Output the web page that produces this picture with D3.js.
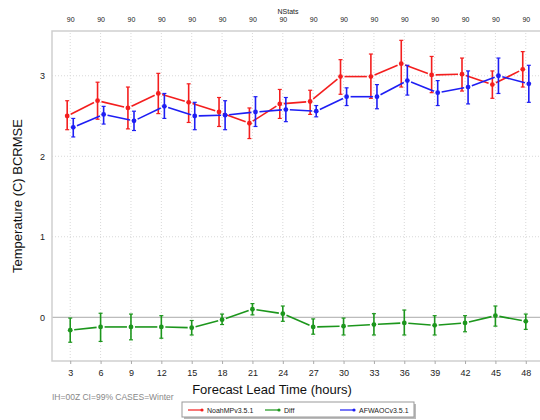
<!DOCTYPE html>
<html>
<head>
<meta charset="utf-8">
<script src="https://cdn.jsdelivr.net/npm/d3@7"></script>
<style>
  body { margin: 0; background: #fff; }
  text { font-family: "Liberation Sans", Arial, sans-serif; }
</style>
</head>
<body>
<svg width="540" height="420"></svg>
<script>
// data
const leadTimes = [3, 6, 9, 12, 15, 18, 21, 24, 27, 30, 33, 36, 39, 42, 45, 48];
const nStats = [90, 90, 90, 90, 90, 90, 90, 90, 90, 90, 90, 90, 90, 90, 90, 90];

const noahVal = [2.50, 2.69, 2.60, 2.78, 2.67, 2.55, 2.41, 2.65, 2.68, 2.99, 2.99, 3.15, 3.01, 3.02, 2.89, 3.08];
const noahHi  = [2.69, 2.92, 2.86, 3.03, 2.90, 2.73, 2.60, 2.83, 2.82, 3.20, 3.27, 3.44, 3.24, 3.22, 3.06, 3.30];
const noahLo  = [2.33, 2.46, 2.34, 2.53, 2.42, 2.37, 2.22, 2.47, 2.52, 2.77, 2.72, 2.86, 2.79, 2.81, 2.72, 2.86];

const afwaVal = [2.36, 2.52, 2.44, 2.62, 2.50, 2.51, 2.55, 2.58, 2.56, 2.74, 2.74, 2.94, 2.79, 2.86, 3.00, 2.90];
const afwaHi  = [2.47, 2.62, 2.56, 2.78, 2.67, 2.69, 2.74, 2.73, 2.63, 2.85, 2.89, 3.13, 2.94, 3.06, 3.22, 3.13];
const afwaLo  = [2.24, 2.40, 2.32, 2.47, 2.33, 2.33, 2.37, 2.43, 2.49, 2.63, 2.59, 2.76, 2.63, 2.65, 2.78, 2.67];

const diffVal = [-0.16, -0.12, -0.12, -0.12, -0.13, -0.03, 0.10, 0.045, -0.12, -0.11, -0.09, -0.07, -0.10, -0.07, 0.02, -0.05];
const diffHi  = [-0.01, 0.05, 0.04, 0.02, -0.04, 0.04, 0.17, 0.14, -0.02, -0.01, 0.045, 0.09, 0.02, 0.02, 0.14, 0.04];
const diffLo  = [-0.31, -0.30, -0.28, -0.26, -0.22, -0.09, 0.03, -0.05, -0.21, -0.22, -0.22, -0.22, -0.22, -0.18, -0.11, -0.15];

const yTicks = [0, 1, 2, 3];

const series = [
  { name: "NoahMPv3.5.1", color: "#f41e1e", shift: -0.3, val: noahVal, hi: noahHi, lo: noahLo },
  { name: "Diff", color: "#1c961c", shift: 0, val: diffVal, hi: diffHi, lo: diffLo },
  { name: "AFWAOCv3.5.1", color: "#1e1ef4", shift: 0.3, val: afwaVal, hi: afwaHi, lo: afwaLo }
];

const svg = d3.select("svg");
const margin = { top: 31, right: -4, bottom: 59, left: 52 };
const width = +svg.attr("width");
const height = +svg.attr("height");

const x = d3.scaleLinear().domain([1.2, 49.8]).range([margin.left, width - margin.right]);
const y = d3.scaleLinear().domain([-0.543, 3.556]).range([height - margin.bottom, margin.top]);

const gridColor = "#d8d8d8";
const frameColor = "#cfcfcf";

// grid
svg.append("g").selectAll("line").data(leadTimes).enter().append("line")
  .attr("x1", d => x(d)).attr("x2", d => x(d))
  .attr("y1", y.range()[0]).attr("y2", y.range()[1])
  .attr("stroke", gridColor).attr("stroke-dasharray", "1,2");
svg.append("g").selectAll("line").data(yTicks.filter(d => d !== 0)).enter().append("line")
  .attr("x1", x.range()[0]).attr("x2", x.range()[1])
  .attr("y1", d => y(d)).attr("y2", d => y(d))
  .attr("stroke", gridColor).attr("stroke-dasharray", "1,2");

// zero line
svg.append("line")
  .attr("x1", x.range()[0]).attr("x2", x.range()[1])
  .attr("y1", y(0)).attr("y2", y(0))
  .attr("stroke", "#aaaaaa").attr("stroke-width", 1);

// frame
svg.append("path")
  .attr("d", `M${x.range()[1]},${y.range()[1]}H${x.range()[0]}V${y.range()[0]}H${x.range()[1]}`)
  .attr("fill", "none").attr("stroke", frameColor).attr("stroke-width", 1.5);

// bottom axis
const xAxis = d3.axisBottom(x).tickValues(leadTimes).tickSize(3).tickPadding(6);
const gx = svg.append("g").attr("transform", `translate(0,${y.range()[0]})`).call(xAxis);
gx.select(".domain").remove();
gx.selectAll(".tick line").attr("stroke", "#aaa");
gx.selectAll("text").attr("font-size", 9).attr("fill", "#222");

// left axis
const yAxis = d3.axisLeft(y).tickValues(yTicks).tickSize(0).tickPadding(7).tickFormat(d3.format("d"));
const gy = svg.append("g").attr("transform", `translate(${margin.left},0)`).call(yAxis);
gy.select(".domain").remove();
gy.selectAll("text").attr("font-size", 9).attr("fill", "#222");

// top NStats axis
const topAxis = d3.axisTop(x).tickValues(leadTimes).tickSize(0).tickPadding(9)
  .tickFormat((d, i) => nStats[i]);
const gt = svg.append("g").attr("transform", `translate(0,${y.range()[1]})`).call(topAxis);
gt.select(".domain").remove();
gt.selectAll("text").attr("font-size", 7).attr("fill", "#222");

svg.append("text").attr("x", 288).attr("y", 14).attr("text-anchor", "middle")
  .attr("font-size", 7).attr("fill", "#222").text("NStats");

// titles
svg.append("text").attr("x", 272).attr("y", 394).attr("text-anchor", "middle")
  .attr("font-size", 13).attr("fill", "#111").text("Forecast Lead Time (hours)");
svg.append("text").attr("transform", "translate(22,196) rotate(-90)").attr("text-anchor", "middle")
  .attr("font-size", 13).attr("fill", "#111").text("Temperature (C) BCRMSE");
svg.append("text").attr("x", 52).attr("y", 400)
  .attr("font-size", 8.5).attr("fill", "#888").text("IH=00Z CI=99% CASES=Winter");

// series
const gap = 4;
series.forEach(s => {
  const g = svg.append("g");
  const pts = leadTimes.map((t, i) => [x(t + s.shift), y(s.val[i])]);
  // connecting segments with small gaps at the points
  const segs = d3.pairs(pts).map(([a, b]) => {
    const dx = b[0] - a[0], dy = b[1] - a[1];
    const len = Math.hypot(dx, dy);
    const ux = dx / len, uy = dy / len;
    return [a[0] + ux * gap, a[1] + uy * gap, b[0] - ux * gap, b[1] - uy * gap];
  });
  g.selectAll(".seg").data(segs).enter().append("line")
    .attr("x1", d => d[0]).attr("y1", d => d[1]).attr("x2", d => d[2]).attr("y2", d => d[3])
    .attr("stroke", s.color).attr("stroke-width", 1.6);
  // error bars
  g.selectAll(".eb").data(leadTimes).enter().append("line")
    .attr("x1", d => x(d + s.shift)).attr("x2", d => x(d + s.shift))
    .attr("y1", (d, i) => y(s.hi[i])).attr("y2", (d, i) => y(s.lo[i]))
    .attr("stroke", s.color).attr("stroke-width", 1.6);
  [s.hi, s.lo].forEach(arr => {
    g.selectAll(null).data(leadTimes).enter().append("line")
      .attr("x1", d => x(d + s.shift) - 2).attr("x2", d => x(d + s.shift) + 2)
      .attr("y1", (d, i) => y(arr[i])).attr("y2", (d, i) => y(arr[i]))
      .attr("stroke", s.color).attr("stroke-width", 1.2);
  });
  // points
  g.selectAll("circle").data(leadTimes).enter().append("circle")
    .attr("cx", d => x(d + s.shift)).attr("cy", (d, i) => y(s.val[i]))
    .attr("r", 2.4).attr("fill", s.color);
});

// legend
const lg = svg.append("g");
lg.append("rect").attr("x", 184).attr("y", 404).attr("width", 232).attr("height", 15)
  .attr("fill", "#bbb");
lg.append("rect").attr("x", 182).attr("y", 402).attr("width", 232).attr("height", 15)
  .attr("fill", "#fff").attr("stroke", "#999").attr("stroke-width", 1);
const legX = [188, 265, 340];
series.forEach((s, i) => {
  lg.append("line").attr("x1", legX[i]).attr("x2", legX[i] + 14).attr("y1", 410).attr("y2", 410)
    .attr("stroke", s.color).attr("stroke-width", 1.2);
  lg.append("circle").attr("cx", legX[i] + 14).attr("cy", 410).attr("r", 1.6).attr("fill", s.color);
  lg.append("text").attr("x", legX[i] + 19).attr("y", 412.5).attr("font-size", 7)
    .attr("fill", "#222").text(s.name);
});
</script>
</body>
</html>
